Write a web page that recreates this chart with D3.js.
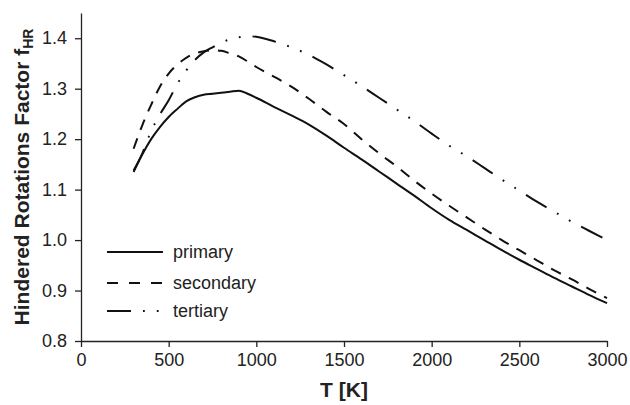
<!DOCTYPE html>
<html>
<head>
<meta charset="utf-8">
<script src="https://cdn.jsdelivr.net/npm/d3@7"></script>
<style>
  html, body { margin: 0; padding: 0; background: #fff; }
  svg { display: block; font-family: "Liberation Sans", Arial, Helvetica, sans-serif; }
  .axis path, .axis line { stroke: #222; stroke-width: 1.3; }
  .axis text { font-size: 18px; fill: #222; }
</style>
</head>
<body>
<svg id="chart" width="630" height="405"></svg>
<script>
// Temperature grid (K)
const temperatures = [300, 350, 400, 450, 500, 550, 600, 650, 700, 750, 800, 850, 900, 950, 1000,
  1100, 1200, 1300, 1400, 1500, 1600, 1700, 1800, 1900, 2000,
  2100, 2200, 2300, 2400, 2500, 2600, 2700, 2800, 2900, 3000];

// Hindered rotations factor per radical type
const primaryValues = [1.135, 1.170, 1.200, 1.224, 1.244, 1.260, 1.275, 1.283, 1.288, 1.290, 1.292, 1.294, 1.296, 1.290, 1.282,
  1.264, 1.247, 1.229, 1.207, 1.183, 1.160, 1.136, 1.112, 1.088, 1.063,
  1.040, 1.020, 1.000, 0.980, 0.961, 0.943, 0.925, 0.908, 0.891, 0.875];
const secondaryValues = [1.181, 1.228, 1.268, 1.304, 1.330, 1.348, 1.361, 1.370, 1.374, 1.376, 1.375, 1.370, 1.364, 1.354, 1.343,
  1.324, 1.304, 1.280, 1.254, 1.230, 1.200, 1.172, 1.146, 1.118, 1.092,
  1.068, 1.045, 1.022, 1.000, 0.980, 0.960, 0.940, 0.922, 0.903, 0.885];
const tertiaryValues = [1.138, 1.172, 1.216, 1.249, 1.277, 1.310, 1.336, 1.357, 1.372, 1.382, 1.391, 1.398, 1.402, 1.404, 1.403,
  1.394, 1.382, 1.367, 1.348, 1.327, 1.305, 1.282, 1.259, 1.236, 1.211,
  1.187, 1.166, 1.143, 1.120, 1.098, 1.076, 1.056, 1.036, 1.018, 1.000];

const seriesNames = ["primary", "secondary", "tertiary"];
const xTicks = [0, 500, 1000, 1500, 2000, 2500, 3000];
const yTicks = [0.8, 0.9, 1.0, 1.1, 1.2, 1.3, 1.4];

const dashStyles = {
  primary: null,
  secondary: "11,9",
  tertiary: "24,12,1.8,12,1.8,12"
};

const series = [
  { name: seriesNames[0], values: primaryValues },
  { name: seriesNames[1], values: secondaryValues },
  { name: seriesNames[2], values: tertiaryValues }
];

const svg = d3.select("#chart");
const x = d3.scaleLinear().domain([0, 3000]).range([81, 607]);
const y = d3.scaleLinear().domain([0.8, 1.45]).range([341, 13]);

// Axes
svg.append("g")
  .attr("class", "axis")
  .attr("transform", "translate(0,341)")
  .call(d3.axisBottom(x).tickValues(xTicks).tickFormat(d3.format("d"))
    .tickSize(6).tickSizeOuter(0).tickPadding(6));

svg.append("g")
  .attr("class", "axis")
  .attr("transform", "translate(81,0)")
  .call(d3.axisLeft(y).tickValues(yTicks).tickFormat(d3.format(".1f"))
    .tickSize(6).tickSizeOuter(0).tickPadding(8));

// Curves
const line = d3.line()
  .x((d, i) => x(temperatures[i]))
  .y(d => y(d))
  .curve(d3.curveMonotoneX);

svg.append("g").selectAll("path")
  .data(series)
  .join("path")
  .attr("d", d => line(d.values))
  .attr("fill", "none")
  .attr("stroke", "#111")
  .attr("stroke-width", 2)
  .attr("stroke-dasharray", d => dashStyles[d.name]);

// Legend
const legendY = [252, 283, 311];
const legend = svg.append("g").selectAll("g")
  .data(series)
  .join("g")
  .attr("transform", (d, i) => `translate(107,${legendY[i]})`);

legend.append("line")
  .attr("x1", 0).attr("x2", d => d.name === "tertiary" ? 53 : 56)
  .attr("y1", 0).attr("y2", 0)
  .attr("stroke", "#111")
  .attr("stroke-width", 2)
  .attr("stroke-dasharray", d => d.name === "secondary" ? "11,11" : dashStyles[d.name]);

legend.append("text")
  .attr("x", 66)
  .attr("y", 6)
  .attr("font-size", 18)
  .attr("fill", "#222")
  .text(d => d.name);

// Axis titles
svg.append("text")
  .attr("x", 344)
  .attr("y", 397)
  .attr("text-anchor", "middle")
  .attr("font-size", 21)
  .attr("font-weight", "bold")
  .attr("fill", "#222")
  .text("T [K]");

const yTitle = svg.append("text")
  .attr("transform", "translate(29,177) rotate(-90)")
  .attr("text-anchor", "middle")
  .attr("font-size", 21)
  .attr("font-weight", "bold")
  .attr("fill", "#222");
yTitle.append("tspan").text("Hindered Rotations Factor f");
yTitle.append("tspan").attr("font-size", 14).attr("dy", 4).text("HR");
</script>
</body>
</html>
